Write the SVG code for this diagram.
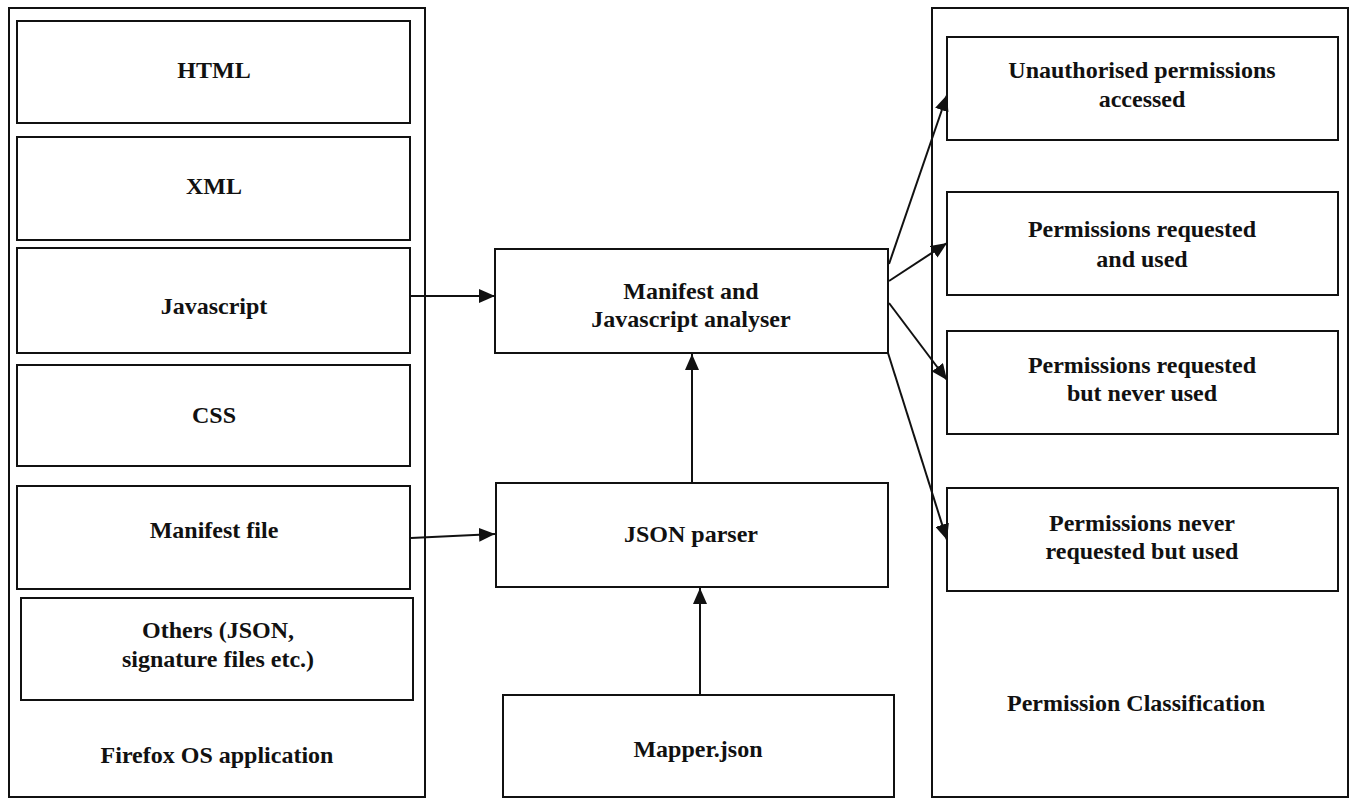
<svg xmlns="http://www.w3.org/2000/svg" width="1351" height="799" viewBox="0 0 1351 799">
<style>
.box{fill:#fff;stroke:#111;stroke-width:2}
.lbl{font-family:"Liberation Serif","Times New Roman",serif;font-weight:bold;font-size:24px;fill:#111;text-anchor:middle}
.con{stroke:#111;stroke-width:2;fill:none}
</style>
<defs>
<marker id="ah" viewBox="0 0 16 14" refX="16" refY="7" markerWidth="16" markerHeight="14" orient="auto" markerUnits="userSpaceOnUse"><path d="M0,0 L16,7 L0,14 z" fill="#111"/></marker>
</defs>
<rect width="1351" height="799" fill="#fff"/>
<g id="firefox-app">
<rect class="box" x="9" y="8" width="416" height="789"/>
<text class="lbl" x="217" y="763">Firefox OS application</text>
</g>
<g id="html"><rect class="box" x="17" y="21" width="393" height="102"/><text class="lbl" x="214" y="78">HTML</text></g>
<g id="xml"><rect class="box" x="17" y="137" width="393" height="103"/><text class="lbl" x="214" y="194">XML</text></g>
<g id="javascript"><rect class="box" x="17" y="248" width="393" height="105"/><text class="lbl" x="214" y="314">Javascript</text></g>
<g id="css"><rect class="box" x="17" y="365" width="393" height="101"/><text class="lbl" x="214" y="423">CSS</text></g>
<g id="manifest-file"><rect class="box" x="17" y="486" width="393" height="103"/><text class="lbl" x="214" y="538">Manifest file</text></g>
<g id="others"><rect class="box" x="21" y="598" width="392" height="102"/><text class="lbl" x="218" y="638">Others (JSON,</text><text class="lbl" x="218" y="667">signature files etc.)</text></g>
<g id="analyser"><rect class="box" x="495" y="249" width="393" height="104"/><text class="lbl" x="691" y="299">Manifest and</text><text class="lbl" x="691" y="327">Javascript analyser</text></g>
<g id="json-parser"><rect class="box" x="496" y="483" width="392" height="104"/><text class="lbl" x="691" y="542">JSON parser</text></g>
<g id="mapper"><rect class="box" x="503" y="695" width="391" height="102"/><text class="lbl" x="698" y="757">Mapper.json</text></g>
<g id="permission-classification">
<rect class="box" x="932" y="8" width="416" height="789"/>
<text class="lbl" x="1136" y="711">Permission Classification</text>
</g>
<g id="unauthorised"><rect class="box" x="947" y="37" width="391" height="103"/><text class="lbl" x="1142" y="78">Unauthorised permissions</text><text class="lbl" x="1142" y="107">accessed</text></g>
<g id="requested-used"><rect class="box" x="947" y="192" width="391" height="103"/><text class="lbl" x="1142" y="237">Permissions requested</text><text class="lbl" x="1142" y="267">and used</text></g>
<g id="requested-never-used"><rect class="box" x="947" y="331" width="391" height="103"/><text class="lbl" x="1142" y="373">Permissions requested</text><text class="lbl" x="1142" y="401">but never used</text></g>
<g id="never-requested-used"><rect class="box" x="947" y="488" width="391" height="103"/><text class="lbl" x="1142" y="531">Permissions never</text><text class="lbl" x="1142" y="559">requested but used</text></g>
<g id="connectors">
<path class="con" d="M411,296 L495,296" marker-end="url(#ah)"/>
<path class="con" d="M411,538 L495,534" marker-end="url(#ah)"/>
<path class="con" d="M692,483 L692,354" marker-end="url(#ah)"/>
<path class="con" d="M700,695 L700,588" marker-end="url(#ah)"/>
<path class="con" d="M889,264 L947,95" marker-end="url(#ah)"/>
<path class="con" d="M889,281 L947,243" marker-end="url(#ah)"/>
<path class="con" d="M889,303 L947,380" marker-end="url(#ah)"/>
<path class="con" d="M888,353 L947,540" marker-end="url(#ah)"/>
</g>
</svg>
